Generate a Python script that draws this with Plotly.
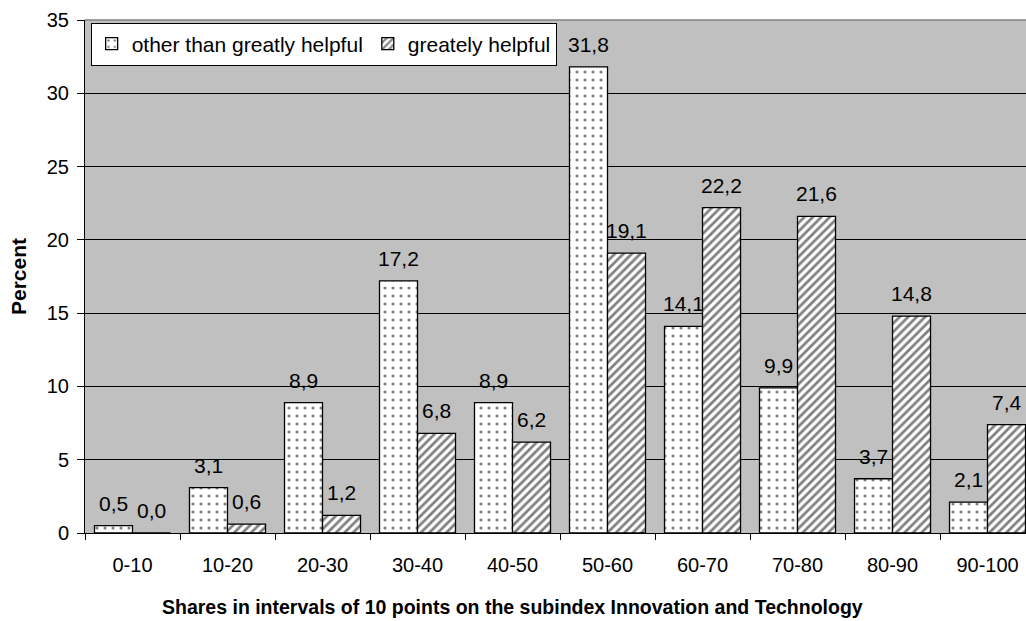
import plotly.graph_objects as go

categories = ["0-10", "10-20", "20-30", "30-40", "40-50", "50-60", "60-70", "70-80", "80-90", "90-100"]
other_vals = [0.5, 3.1, 8.9, 17.2, 8.9, 31.8, 14.1, 9.9, 3.7, 2.1]
great_vals = [0.0, 0.6, 1.2, 6.8, 6.2, 19.1, 22.2, 21.6, 14.8, 7.4]
series_names = ["other than greatly helpful", "greately helpful"]
y_ticks = [0, 5, 10, 15, 20, 25, 30, 35]
x_title = "Shares in intervals of 10 points on the subindex Innovation and Technology"
y_title = "Percent"

FONT = "Liberation Sans, Arial, sans-serif"

fig = go.Figure()
fig.add_trace(go.Bar(
    x=categories, y=other_vals, name=series_names[0],
    marker=dict(color="white", line=dict(color="black", width=1.3),
                pattern=dict(shape=".", fgcolor="black", bgcolor="white", size=8, solidity=0.12)),
))
fig.add_trace(go.Bar(
    x=categories, y=great_vals, name=series_names[1],
    marker=dict(color="white", line=dict(color="black", width=1.3),
                pattern=dict(shape="/", fgcolor="black", bgcolor="white", size=6, solidity=0.45)),
))

# value labels above each bar
annotations = []
for vals, shift in ((other_vals, -19), (great_vals, 19)):
    for c, v in zip(categories, vals):
        annotations.append(dict(
            x=c, y=v, xref="x", yref="y", text=f"{v:.1f}".replace(".", ","),
            showarrow=False, xshift=shift, yanchor="bottom", yshift=9,
            font=dict(size=21, color="black", family=FONT),
        ))

# x-axis title (centred on the page like the original)
annotations.append(dict(
    text=f"<b>{x_title}</b>", xref="paper", yref="paper", x=0.4548, y=-0.1442,
    xanchor="center", yanchor="middle", showarrow=False,
    font=dict(size=19.5, color="black", family=FONT),
))

fig.update_layout(
    width=1026, height=621,
    margin=dict(l=85, r=0, t=20, b=88),
    paper_bgcolor="white", plot_bgcolor="#c0c0c0",
    separators=",.",
    barmode="group", bargap=0.2, bargroupgap=0,
    font=dict(family=FONT, size=20, color="black"),
    showlegend=True,
    legend=dict(orientation="h", x=0.006, y=0.995, xanchor="left", yanchor="top",
                bgcolor="white", bordercolor="black", borderwidth=1,
                font=dict(size=21), itemwidth=30, tracegroupgap=0),
    annotations=annotations,
    xaxis=dict(
        range=[-0.5, 9.405], type="category",
        tickson="boundaries", ticks="outside", ticklen=6, tickcolor="black",
        ticklabelstandoff=14,
        showline=True, linecolor="black", linewidth=1,
        tickfont=dict(size=20), showgrid=False,
    ),
    yaxis=dict(
        range=[0, 35], tickvals=y_ticks, ticks="outside", ticklen=7, tickcolor="black",
        ticklabelstandoff=4,
        showline=True, linecolor="black", linewidth=1,
        showgrid=True, gridcolor="black", gridwidth=1,
        tickfont=dict(size=20), zeroline=False,
        title=dict(text=f"<b>{y_title}</b>", font=dict(size=21), standoff=14),
    ),
    shapes=[dict(type="line", xref="paper", yref="paper", x0=0, x1=1, y0=1, y1=1,
                 line=dict(color="#808080", width=1.5))],
)

fig.write_html("out.html")
